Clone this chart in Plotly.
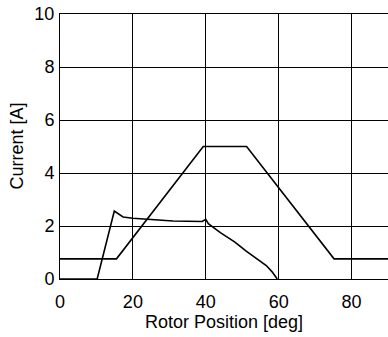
import plotly.graph_objects as go

# Trapezoidal reference current
pos_ref = [0, 15.5, 39.3, 51.2, 75.2, 90]
cur_ref = [0.76, 0.76, 5.0, 5.0, 0.76, 0.76]

# Actual phase current
pos_act = [0, 10.2, 14.9, 17.3, 20, 23.7, 27, 31, 35, 39.0, 40.0, 40.7, 44, 48, 51, 53.4, 55, 56.6, 58.2, 59.6]
cur_act = [0, 0, 2.56, 2.34, 2.29, 2.25, 2.22, 2.19, 2.18, 2.17, 2.25, 2.09, 1.75, 1.39, 1.06, 0.82, 0.68, 0.51, 0.27, 0.0]

x_ticks = [0, 20, 40, 60, 80]
y_ticks = [0, 2, 4, 6, 8, 10]

fig = go.Figure()
fig.add_trace(go.Scatter(x=pos_ref, y=cur_ref, mode="lines",
                         line=dict(color="black", width=1.6), showlegend=False))
fig.add_trace(go.Scatter(x=pos_act, y=cur_act, mode="lines",
                         line=dict(color="black", width=1.6), showlegend=False))

font = dict(family="Liberation Sans, Arial, sans-serif", size=18, color="black")

fig.update_layout(
    width=388, height=337,
    margin=dict(l=60, r=0, t=14, b=58),
    paper_bgcolor="white", plot_bgcolor="white",
    font=font,
)
fig.update_xaxes(
    range=[0, 90], tickvals=x_ticks, ticktext=[str(v) for v in x_ticks],
    showgrid=True, gridcolor="black", gridwidth=1,
    showline=True, linecolor="black", linewidth=1, mirror=True,
    zeroline=False, ticks="outside", ticklen=6, tickcolor="white",
    title=dict(text="Rotor Position [deg]", standoff=0, font=font),
    tickfont=font, automargin=False, ticklabeloverflow="allow",
)
fig.update_yaxes(
    range=[0, 10], tickvals=y_ticks, ticktext=[str(v) for v in y_ticks],
    showgrid=True, gridcolor="black", gridwidth=1,
    showline=True, linecolor="black", linewidth=1, mirror=True,
    zeroline=False, ticks="outside", ticklen=1, tickcolor="white",
    tickfont=font, automargin=False, ticklabeloverflow="allow",
)
fig.add_annotation(text="Current [A]", textangle=-90, xref="paper", yref="paper",
                   x=-0.134, y=0.5, xanchor="center", yanchor="middle",
                   showarrow=False, font=font)

fig.write_html("out.html", config={"displayModeBar": False},
               post_script="document.body.style.margin='0';document.body.style.overflow='hidden';")
